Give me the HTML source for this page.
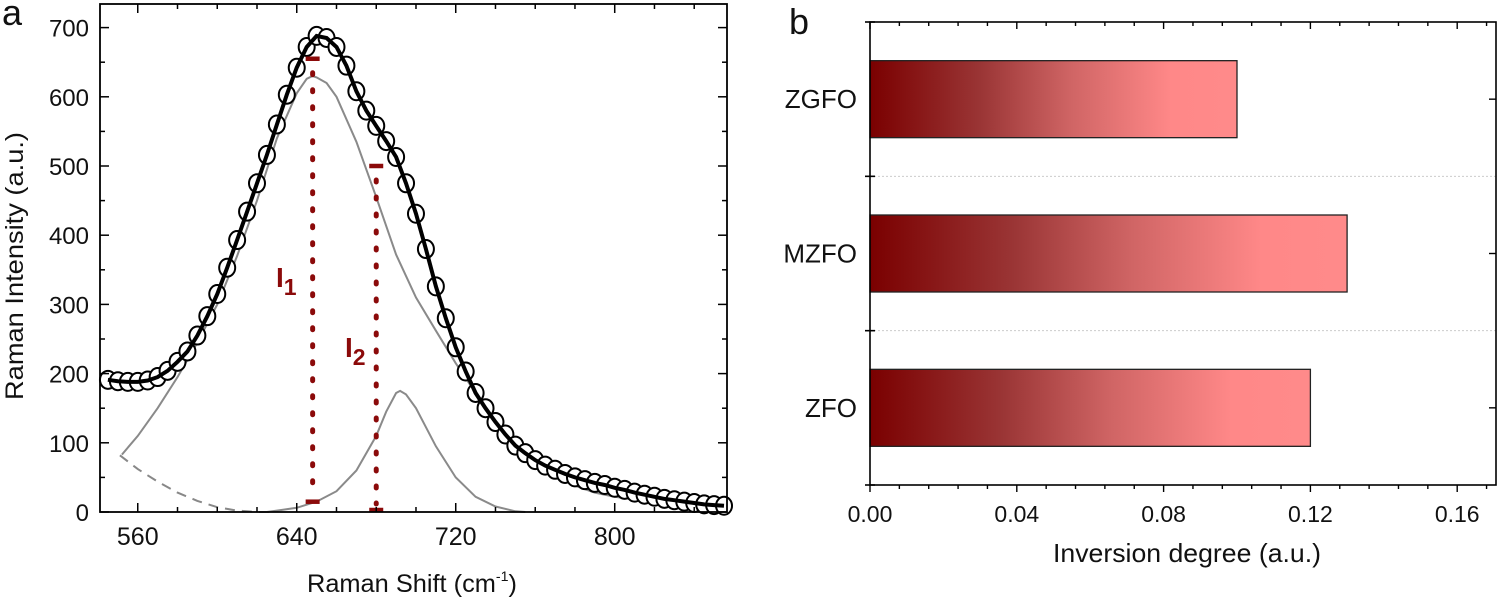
<!DOCTYPE html>
<html><head><meta charset="utf-8"><style>
html,body{margin:0;padding:0;background:#fff;}
svg{display:block;font-family:"Liberation Sans",sans-serif;}
</style></head><body>
<svg id="fig" width="1499" height="600" viewBox="0 0 1499 600" xmlns="http://www.w3.org/2000/svg">
<defs>
<linearGradient id="barGrad" x1="0" y1="0" x2="1" y2="0">
<stop offset="0" stop-color="#7a0000"/>
<stop offset="0.3" stop-color="#9a3535"/>
<stop offset="0.55" stop-color="#d06565"/>
<stop offset="0.82" stop-color="#ff8888"/>
<stop offset="1" stop-color="#ff8a8a"/>
</linearGradient>
</defs>
<g id="panelA"></g>
<g id="panelB"></g>
</svg>
<script>
// ---------- Panel a data ----------
const ramanX = [545,550,555,560,565,570,575,580,585,590,595,600,605,610,615,620,625,630,635,640,645,650,655,660,665,670,675,680,685,690,695,700,705,710,715,720,725,730,735,740,745,750,755,760,765,770,775,780,785,790,795,800,805,810,815,820,825,830,835,840,845,850,855];
const ramanY = [191,189,188,188,190,195,204,217,232,255,283,315,353,393,434,475,516,560,603,642,672,688,685,672,645,608,580,558,536,513,475,431,380,326,280,238,203,172,150,130,112,96,85,75,67,61,55,50,46,42,39,35,32,28,25,22,19,17,15,13,11,10,9];
const peak1X = [552,560,570,580,590,600,610,620,630,640,645,648,650,655,660,670,680,690,700,710,720,730,740,750,760,770,780,790,800,820,840,856];
const peak1Y = [83,110,150,195,245,300,370,450,540,605,626,630,628,620,600,535,455,372,310,262,215,172,130,95,72,52,38,28,22,14,9,5];
const peak2X = [625,630,640,650,660,670,680,685,690,692,695,700,710,720,730,740,750,755];
const peak2Y = [0,2,6,15,30,60,110,145,172,175,170,150,95,50,22,8,1,0];
const baseX = [551,560,570,580,590,600,610,620,627];
const baseY = [82,62,44,28,16,7,2,0,0];
const markerX = [648,680];
const markerTop = [655,500];
const markerBottom = [12,0];
const xTicksA = [560,640,720,800];
const yTicksA = [0,100,200,300,400,500,600,700];

// ---------- Panel b data ----------
const categories = ["ZFO","MZFO","ZGFO"];
const inversion = [0.12,0.13,0.10];
const xTicksB = ["0.00","0.04","0.08","0.12","0.16"];

const NS="http://www.w3.org/2000/svg";
function mk(tag,attrs,parent){const e=document.createElementNS(NS,tag);for(const k in attrs)e.setAttribute(k,attrs[k]);if(parent)parent.appendChild(e);return e;}

// ---- Panel A ----
const A=document.getElementById('panelA');
const aL=100,aR=727,aT=4,aB=512,xMinA=541,xMaxA=856.5;
const sx=v=>aL+(v-xMinA)*(aR-aL)/(xMaxA-xMinA);
const sy=v=>aB-v*0.692;
function pathOf(xs,ys){return xs.map((x,i)=>(i?'L':'M')+sx(x).toFixed(1)+' '+sy(ys[i]).toFixed(1)).join(' ');}

let e;
e=mk('path',{d:pathOf(baseX,baseY),fill:'none',stroke:'#888','stroke-width':2,'stroke-dasharray':'10,7'},A);


e=mk('path',{d:pathOf(peak1X,peak1Y),fill:'none',stroke:'#8a8a8a','stroke-width':2},A);


e=mk('path',{d:pathOf(peak2X,peak2Y),fill:'none',stroke:'#8a8a8a','stroke-width':2},A);



const pts=mk('g',{},A);


ramanX.forEach((x,i)=>{
  const c=mk('ellipse',{cx:sx(x),cy:sy(ramanY[i]),rx:8,ry:9,fill:'#fff',stroke:'#000','stroke-width':2},pts);
  
  
});
e=mk('path',{d:pathOf(ramanX,ramanY),fill:'none',stroke:'#000','stroke-width':4},A);



markerX.forEach((x,i)=>{
  const g=mk('g',{},A);
  
  
  mk('line',{x1:sx(x),x2:sx(x),y1:sy(markerTop[i])+14,y2:sy(markerBottom[i])-8,stroke:'#8b0a0a','stroke-width':5,'stroke-linecap':'round','stroke-dasharray':'2,15'},g);
  mk('line',{x1:sx(x)-7,x2:sx(x)+7,y1:sy(markerTop[i]),y2:sy(markerTop[i]),stroke:'#8b0a0a','stroke-width':4.5},g);
  mk('line',{x1:sx(x)-7,x2:sx(x)+7,y1:sy(markerBottom[i])-2,y2:sy(markerBottom[i])-2,stroke:'#8b0a0a','stroke-width':4.5},g);
});

e=mk('rect',{x:aL,y:aT,width:aR-aL,height:aB-aT,fill:'none',stroke:'#000','stroke-width':1.8},A);


for(let v=560;v<=840;v+=20){
  const maj=xTicksA.includes(v),L=maj?9:5;
  mk('line',{x1:sx(v),x2:sx(v),y1:aB,y2:aB-L,stroke:'#000','stroke-width':1.5},A);
  mk('line',{x1:sx(v),x2:sx(v),y1:aT,y2:aT+L,stroke:'#000','stroke-width':1.5},A);
}
for(let v=0;v<=700;v+=50){
  const maj=v%100===0,L=maj?9:5;
  mk('line',{x1:aL,x2:aL+L,y1:sy(v),y2:sy(v),stroke:'#000','stroke-width':1.5},A);
  mk('line',{x1:aR,x2:aR-L,y1:sy(v),y2:sy(v),stroke:'#000','stroke-width':1.5},A);
}
xTicksA.forEach(v=>{const t=mk('text',{x:sx(v),y:aB+33,'text-anchor':'middle','font-size':25,fill:'#111'},A);t.textContent=v;
  
  });
yTicksA.forEach(v=>{const t=mk('text',{x:aL-11,y:sy(v)+9,'text-anchor':'end','font-size':24,fill:'#111'},A);t.textContent=v;
  
  });
</script>
<script>
(function(){
const A=document.getElementById('panelA');
A.insertAdjacentHTML('beforeend',
 '<text x="23" y="266" transform="rotate(-90 23 266)" text-anchor="middle" font-size="25" textLength="268" lengthAdjust="spacingAndGlyphs" fill="#111">Raman Intensity (a.u.)</text>'+
 '<text x="307" y="592" font-size="25" textLength="210" lengthAdjust="spacingAndGlyphs" fill="#111">Raman Shift (cm<tspan dy="-11" font-size="14">-1</tspan><tspan dy="11">)</tspan></text>'+
 '<text x="2" y="25" font-size="36" fill="#111">a</text>'+
 '<text x="276" y="287" font-size="28" font-weight="bold" fill="#8b0a0a">I<tspan dy="8" font-size="23">1</tspan></text>'+
 '<text x="345" y="357" font-size="28" font-weight="bold" fill="#8b0a0a">I<tspan dy="8" font-size="23">2</tspan></text>');
})();
</script>
<script>
(function(){
const B=document.getElementById('panelB');
const bL=870,bR=1496,bT=22,bB=485;
const bx=v=>bL+v*3670;
const catH=(bB-bT)/categories.length;
const cy=i=>bB-catH*(i+0.5);
for(let k=1;k<categories.length;k++){
  const y=bB-catH*k;
  const g=mk('line',{x1:bL,x2:bR,y1:y,y2:y,stroke:'#ccc','stroke-width':1,'stroke-dasharray':'2,2'},B);
  
  
}
categories.forEach((c,i)=>{
  const r=mk('rect',{x:bL,y:cy(i)-38.5,width:bx(inversion[i])-bL,height:77,fill:'url(#barGrad)',stroke:'#222','stroke-width':1.3},B);
  
  
  const t=mk('text',{x:bL-13,y:cy(i)+9,'text-anchor':'end','font-size':26,fill:'#111'},B);
  t.textContent=c;
  
  
});
const f=mk('rect',{x:bL,y:bT,width:bR-bL,height:bB-bT,fill:'none',stroke:'#000','stroke-width':1.6},B);


for(let k=0;k<=21;k++){
  const v=k*0.008,x=bx(v);if(x>bR)break;
  const maj=k%5===0,L=maj?7:4;
  mk('line',{x1:x,x2:x,y1:bB,y2:bB+L,stroke:'#000','stroke-width':1.4},B);
  mk('line',{x1:x,x2:x,y1:bT,y2:bT+L,stroke:'#000','stroke-width':1.4},B);
}
for(let k=0;k<=categories.length;k++){
  const y=bB-catH*k;
  mk('line',{x1:bL-5,x2:bL+5,y1:y,y2:y,stroke:'#000','stroke-width':1.6},B);
}
categories.forEach((c,i)=>{mk('line',{x1:bR,x2:bR-7,y1:cy(i),y2:cy(i),stroke:'#000','stroke-width':1.4},B);});
xTicksB.forEach(s=>{
  const t=mk('text',{x:bx(parseFloat(s)),y:bB+37,'text-anchor':'middle','font-size':23,fill:'#111'},B);
  t.textContent=s;
  
  
});
B.insertAdjacentHTML('beforeend',
 '<text x="1187" y="562" text-anchor="middle" font-size="26" textLength="268" lengthAdjust="spacingAndGlyphs" fill="#111">Inversion degree (a.u.)</text>'+
 '<text x="789" y="34" font-size="36" fill="#111">b</text>');
})();
</script>
</body></html>
